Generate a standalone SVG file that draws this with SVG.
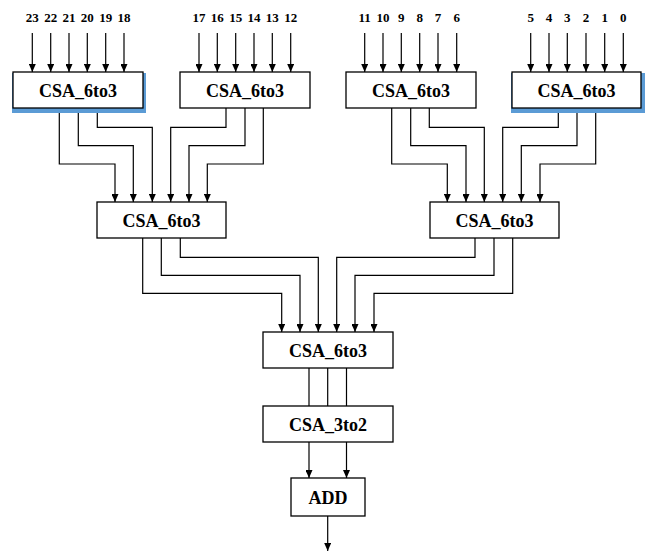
<svg xmlns="http://www.w3.org/2000/svg" width="645" height="551" viewBox="0 0 645 551">
<style>
.box{fill:#fff;stroke:#000;stroke-width:1.3}
.sh{fill:#5b9bd5}
.lbl{font-family:"Liberation Serif","Times New Roman",serif;font-weight:bold;font-size:18px;text-anchor:middle;fill:#000}
.num{font-family:"Liberation Serif","Times New Roman",serif;font-weight:bold;font-size:13px;text-anchor:middle;fill:#000}
.w{fill:none;stroke:#000;stroke-width:1.2}
.a{fill:none;stroke:#000;stroke-width:1.2;marker-end:url(#ah)}
</style>
<defs>
<marker id="ah" markerWidth="8" markerHeight="7" refX="8" refY="3.5" orient="auto" markerUnits="userSpaceOnUse">
<path d="M0,0 L8,3.5 L0,7 z" fill="#000"/>
</marker>
</defs>
<g id="connectors">
<path class="a" d="M32.3,33V72"/><path class="a" d="M50.7,33V72"/><path class="a" d="M69,33V72"/><path class="a" d="M87.3,33V72"/><path class="a" d="M105.7,33V72"/><path class="a" d="M124,33V72"/>
<path class="a" d="M199,33V72"/><path class="a" d="M217.3,33V72"/><path class="a" d="M235.7,33V72"/><path class="a" d="M254,33V72"/><path class="a" d="M272.3,33V72"/><path class="a" d="M290.7,33V72"/>
<path class="a" d="M364.7,33V72"/><path class="a" d="M383,33V72"/><path class="a" d="M401.3,33V72"/><path class="a" d="M419.7,33V72"/><path class="a" d="M438,33V72"/><path class="a" d="M456.7,33V72"/>
<path class="a" d="M530.7,33V72"/><path class="a" d="M549,33V72"/><path class="a" d="M567.3,33V72"/><path class="a" d="M586,33V72"/><path class="a" d="M604.7,33V72"/><path class="a" d="M623.3,33V72"/>
<path class="a" d="M59.3,108V164H115V202"/>
<path class="a" d="M78.3,108V145.7H133.3V202"/>
<path class="a" d="M97.3,108V127.3H152.3V202"/>
<path class="a" d="M226,108V127.3H170.7V202"/>
<path class="a" d="M245,108V145.7H189V202"/>
<path class="a" d="M263.3,108V164H207.3V202"/>
<path class="a" d="M391.7,108V164H447.3V202"/>
<path class="a" d="M410.7,108V145.7H466V202"/>
<path class="a" d="M429.3,108V127.3H484.3V202"/>
<path class="a" d="M558.3,108V127.3H502.7V202"/>
<path class="a" d="M577,108V145.7H521.3V202"/>
<path class="a" d="M595.7,108V164H540V202"/>
<path class="a" d="M142.7,238V293.3H281.7V332"/>
<path class="a" d="M161.3,238V275.3H300V332"/>
<path class="a" d="M180.3,238V257.3H318.3V332"/>
<path class="a" d="M475,238V257.3H336.7V332"/>
<path class="a" d="M494,238V275.3H355V332"/>
<path class="a" d="M512.7,238V293.3H374V332"/>
<path class="w" d="M309,368V406M327.7,368V406M346.5,368V406"/>
<path class="a" d="M309,442V478"/>
<path class="a" d="M346.5,442V478"/>
<path class="a" d="M327.7,516V551"/>
</g>
<g id="labels">
<text class="num" x="32.3" y="22">23</text><text class="num" x="50.7" y="22">22</text><text class="num" x="69" y="22">21</text><text class="num" x="87.3" y="22">20</text><text class="num" x="105.7" y="22">19</text><text class="num" x="124" y="22">18</text>
<text class="num" x="199" y="22">17</text><text class="num" x="217.3" y="22">16</text><text class="num" x="235.7" y="22">15</text><text class="num" x="254" y="22">14</text><text class="num" x="272.3" y="22">13</text><text class="num" x="290.7" y="22">12</text>
<text class="num" x="364.7" y="22">11</text><text class="num" x="383" y="22">10</text><text class="num" x="401.3" y="22">9</text><text class="num" x="419.7" y="22">8</text><text class="num" x="438" y="22">7</text><text class="num" x="456.7" y="22">6</text>
<text class="num" x="530.7" y="22">5</text><text class="num" x="549" y="22">4</text><text class="num" x="567.3" y="22">3</text><text class="num" x="586" y="22">2</text><text class="num" x="604.7" y="22">1</text><text class="num" x="623.3" y="22">0</text>
</g>
<g id="csa1">
<rect class="sh" x="12" y="73" width="134" height="40"/>
<rect class="box" x="13" y="72" width="130" height="36"/>
<text class="lbl" x="78" y="97">CSA_6to3</text>
</g>
<g id="csa2">
<rect class="box" x="180" y="72" width="130" height="36"/>
<text class="lbl" x="245" y="97">CSA_6to3</text>
</g>
<g id="csa3">
<rect class="box" x="346" y="72" width="130" height="36"/>
<text class="lbl" x="411" y="97">CSA_6to3</text>
</g>
<g id="csa4">
<rect class="sh" x="511" y="73" width="134" height="40"/>
<rect class="box" x="512" y="72" width="129" height="36"/>
<text class="lbl" x="576.5" y="97">CSA_6to3</text>
</g>
<g id="csa5">
<rect class="box" x="97" y="202" width="129" height="36"/>
<text class="lbl" x="161.5" y="227">CSA_6to3</text>
</g>
<g id="csa6">
<rect class="box" x="430" y="202" width="129" height="36"/>
<text class="lbl" x="494.5" y="227">CSA_6to3</text>
</g>
<g id="csa7">
<rect class="box" x="263" y="332" width="130" height="36"/>
<text class="lbl" x="328" y="357">CSA_6to3</text>
</g>
<g id="csa3to2">
<rect class="box" x="263" y="406" width="130" height="36"/>
<text class="lbl" x="328" y="431">CSA_3to2</text>
</g>
<g id="add">
<rect class="box" x="291" y="478" width="74" height="38"/>
<text class="lbl" x="328" y="504">ADD</text>
</g>
</svg>
